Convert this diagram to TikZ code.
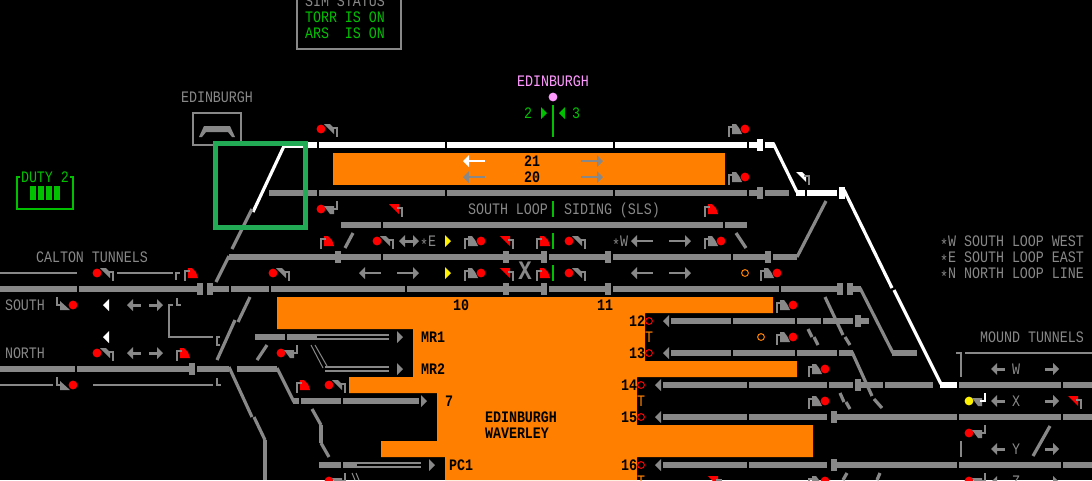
\documentclass[tikz,border=0pt]{standalone}
\usepackage{fontspec}
\setmainfont[FakeStretch=0.833]{Liberation Mono}
\definecolor{tg}{HTML}{888888}
\definecolor{po}{HTML}{FF8000}
\definecolor{gt}{HTML}{00C000}
\definecolor{gb}{HTML}{22AA55}
\definecolor{pk}{HTML}{FF99FF}
\newcounter{tn}
\tikzset{lab/.style={inner sep=0pt,outer sep=0pt,font=\fontsize{12}{14}\selectfont,text=tg,text height=7.9pt,text depth=0pt},
 w1/.style={line width=0.75pt},w2/.style={line width=1.5pt},w3/.style={line width=2.4pt}}
% track segment: [colour]{x1}{x2}{y}
\newcommand\TT[4][tg]{\fill[#1] (#2,#4-3) rectangle (#3,#4+3);}
% block joint
\newcommand\BK[3][tg]{\fill[#1] (#2,#3-6) rectangle (#2+6,#3+6);}
% thin line
\newcommand\TN[4][tg]{\fill[#1] (#2,#4-1) rectangle (#3,#4+1);}
% outlined (double) track
\newcommand\DB[3]{\fill[tg] (#1,#3-3) rectangle (#2,#3-1); \fill[tg] (#1,#3+1) rectangle (#2,#3+3);}
% diagonal
\newcommand\DG[5][tg]{\draw[#1,w3] (#2,#3) -- (#4,#5);}
\newcommand\PL[2][tg]{\draw[#1,w2] #2;}
% triangles: x=base left edge, y centre
\newcommand\TL[3][tg]{\fill[#1] (#2,#3) -- (#2+6,#3-6) -- (#2+6,#3+6) -- cycle;}
\newcommand\TR[3][tg]{\fill[#1] (#2+6,#3) -- (#2,#3-6) -- (#2,#3+6) -- cycle;}
% arrows
\newcommand\AL[4][tg]{\TL[#1]{#2}{#4}\fill[#1] (#2+6,#4-1) rectangle (#3,#4+1);}
\newcommand\AR[4][tg]{\TR[#1]{#3-6}{#4}\fill[#1] (#2,#4-1) rectangle (#3-6,#4+1);}
\newcommand\ALS[3]{\TL{#1}{#3}\fill[tg] (#1+6,#3-1.5) rectangle (#2,#3+1.5);}
\newcommand\ARS[3]{\TR{#2-6}{#3}\fill[tg] (#1,#3-1.5) rectangle (#2-6,#3+1.5);}
\newcommand\DLR[3]{\TL{#1}{#3}\TR{#2-6}{#3}\fill[tg] (#1+6,#3-1.5) rectangle (#2-6,#3+1.5);}
% heads
\newcommand\HA[3][tg]{\fill[#1] (#2+3,#3-5) -- (#2+9,#3-5) -- (#2+13,#3-1) -- (#2+13,#3+5) -- cycle;}
\newcommand\HC[3][tg]{\fill[#1] (#2-13,#3-5) -- (#2-9,#3-5) -- (#2-6,#3-1) -- (#2-3,#3+5) -- (#2-13,#3+5) -- cycle;}
\newcommand\PA[3][tg]{\draw[#1,w2] (#2+11,#3-1) -- (#2+16,#3-1) -- (#2+16,#3+8);}
\newcommand\PC[3][tg]{\draw[#1,w2] (#2-11,#3-2) -- (#2-16,#3-2) -- (#2-16,#3+8);}
\newcommand\DT[3][red]{\fill[#1] (#2,#3) circle (4.4);}
% dot-left, post down
\newcommand\SA[2]{\DT{#1}{#2}\HA{#1}{#2}\PA{#1}{#2}}
% dot-right, post down
\newcommand\SC[2]{\DT{#1}{#2}\HC{#1}{#2}\PC{#1}{#2}}
% dot-left, post up
\newcommand\SB[3][tg]{\fill[tg] (#2+3,#3-3) -- (#2+13,#3-3) -- (#2+13,#3+5) -- (#2+9,#3+5) -- cycle; \draw[#1,w2] (#2+11,#3) -- (#2+16,#3) -- (#2+16,#3-8);}
% dot-right, post up
\newcommand\SD[2]{\DT{#1}{#2}\fill[tg] (#1-13,#2-4) -- (#1-3,#2+5) -- (#1-13,#2+5) -- cycle; \draw[tg,w2] (#1-16,#2-8) -- (#1-16,#2) -- (#1-11,#2);}
% red heads without dot
\newcommand\RV[2]{\fill[red] (#1+3,#2-5) -- (#1+13,#2-5) -- (#1+13,#2+5) -- cycle;\PA{#1}{#2}}
\newcommand\RR[2]{\fill[red] (#1-13,#2-5) -- (#1-9,#2-5) -- (#1-5,#2-1) -- (#1-3,#2+5) -- (#1-13,#2+5) -- cycle;\PC{#1}{#2}}
\newcommand\RG[3][red]{\draw[#1,w1] (#2,#3) circle (3.4);}
\newcommand\TX[4][tg]{\stepcounter{tn}\node[lab,text=#1] (t\arabic{tn}) at (#2,#3) {#4};}
\newcommand\BX[3]{\stepcounter{tn}\node[lab,text=black,font=\fontsize{12}{14}\bfseries\selectfont] (t\arabic{tn}) at (#1,#2) {#3};}
\newcommand\st{\raisebox{-2.8pt}{*}}
\begin{document}
\begin{tikzpicture}[x=0.75pt,y=-0.75pt]
\useasboundingbox (0,0) rectangle (1092,480);
\clip (0,0) rectangle (1092,480);
\fill[black] (0,0) rectangle (1092,480);
% platforms
\fill[po] (333,153) rectangle (725,185);
\fill[po] (277,297) -- (773,297) -- (773,313) -- (645,313) -- (645,361) -- (797,361) -- (797,377) -- (637,377) -- (637,425) -- (813,425) -- (813,457) -- (637,457) -- (637,480) -- (445,480) -- (445,457) -- (381,457) -- (381,441) -- (437,441) -- (437,393) -- (349,393) -- (349,377) -- (413,377) -- (413,329) -- (277,329) -- cycle;
% sim status
\draw[tg,w2] (297,-5) -- (297,49) -- (401,49) -- (401,-5);
\TX{345}{1}{SIM STATUS}
\TX[gt]{345}{17}{TORR IS ON}
\TX[gt]{345}{33}{ARS~~IS~ON}
% Edinburgh icon
\TX{217}{97}{EDINBURGH}
\draw[tg,w2] (193,113) rectangle (241,145);
\fill[tg] (204,126) -- (230,126) -- (235,137) -- (232,137) -- (228,132) -- (206,132) -- (202,137) -- (199,137) -- cycle;
% duty
\draw[gt,w2] (17,183) -- (17,177) -- (20,177);
\draw[gt,w2] (70,177) -- (73,177) -- (73,209) -- (17,209) -- (17,183);
\TX[gt]{45}{177}{DUTY 2}
\foreach \q in {30,38,46,54} {\fill[gt] (\q,186) rectangle (\q+6,200);}
% Edinburgh (pink) and timing
\TX[pk]{553}{81}{EDINBURGH}
\DT[pk]{553}{97}
\fill[gt] (552,105) rectangle (554,137);
\TR[gt]{541}{113}
\TL[gt]{559}{113}
\TX[gt]{528}{113}{2}
\TX[gt]{576}{113}{3}
% top white track
\TT[white]{284}{306}{145}
\TT[white]{308}{317}{145}
\TT[white]{319}{445}{145}
\TT[white]{447}{613}{145}
\TT[white]{615}{747}{145}
\TT[white]{749}{757}{145}
\BK[white]{757}{145}
\TT[white]{765}{774}{145}
\DG[white]{773}{143}{797}{192}
\TT[white]{796}{805}{193}
\TT[white]{807}{837}{193}
\fill[white] (839,187) rectangle (845,199);
\DG[white]{844}{190}{892}{288}
\DG[white]{894}{290}{941}{384}
\TT[white]{940}{957}{385}
\DG[white]{284}{146}{253}{212}
\DG{252}{209}{232}{249}
\DG{229}{256}{216}{282}
% second track
\TT{269}{317}{193}
\TT{319}{445}{193}
\TT{447}{613}{193}
\TT{615}{747}{193}
\TT{749}{757}{193}
\BK{757}{193}
\TT{765}{789}{193}
% y=225
\TT{341}{381}{225}
\TT{383}{723}{225}
\TT{725}{747}{225}
% y=257
\TT{229}{335}{257}
\BK{335}{257}
\TT{341}{381}{257}
\TT{383}{503}{257}
\BK{503}{257}
\TT{509}{541}{257}
\BK{541}{257}
\TT{549}{605}{257}
\BK{605}{257}
\TT{613}{731}{257}
\TT{733}{765}{257}
\BK{765}{257}
\TT{773}{797}{257}
\DG{797}{257}{826}{201}
% y=289
\TT{0}{77}{289}
\TT{79}{197}{289}
\BK{197}{289}
\BK{207}{289}
\TT{213}{229}{289}
\TT{231}{269}{289}
\TT{271}{405}{289}
\TT{407}{503}{289}
\BK{503}{289}
\TT{509}{541}{289}
\BK{541}{289}
\TT{549}{605}{289}
\BK{605}{289}
\TT{613}{779}{289}
\TT{781}{837}{289}
\BK{837}{289}
\BK{847}{289}
\TT{853}{861}{289}
\DG{860}{288}{893}{353}
\TT{892}{917}{353}
% thin calton
\TN{0}{77}{273}
\TN{117}{173}{273}
\TN{0}{53}{385}
\TN{93}{213}{385}
\PL{(169,304) -- (169,337) -- (213,337)}
\PL{(169,305) -- (173,305)}
\PL{(177,298) -- (177,305) -- (181,305)}
\PL{(220,345) -- (217,345) -- (217,337) -- (220,337)}
\PL{(217,378) -- (217,385) -- (221,385)}
\PL{(176,280) -- (176,273) -- (180,273)}
% y=369 left
\TT{0}{75}{369}
\TT{77}{189}{369}
\BK{189}{369}
\TT{197}{229}{369}
\TT{237}{277}{369}
\DG{229}{367}{252}{417}
\DG{254}{417}{265}{440}
\fill[tg] (263,440) rectangle (267,480);
\DG{277}{368}{294}{402}
\DG{250}{297}{238}{322}
\DG{235}{320}{217}{360}
\DG{267}{345}{257}{360}
% MR1, MR2
\TT{255}{285}{337}
\TT{287}{317}{337}
\DB{317}{389}{337}
\TR{397}{337}
\DB{325}{389}{369}
\TR{397}{369}
\draw[tg,w1] (311,345) -- (323,368);
\draw[tg,w1] (315,345) -- (327,366);
% y=401
\TT{293}{299}{401}
\TT{301}{341}{401}
\TT{343}{419}{401}
\TR{421}{401}
\DG{312}{409}{321}{425}
\fill[tg] (319,425) rectangle (323,443);
\DG{321}{443}{329}{457}
% PC1
\TT{319}{341}{465}
\TT{343}{357}{465}
\DB{357}{421}{465}
\TR{429}{465}
\draw[tg,w1] (352,473) -- (355,480);
\draw[tg,w1] (356,473) -- (359,480);
% right tracks
\TL{663}{321}
\TT{671}{731}{321}
\TT{733}{795}{321}
\TT{797}{821}{321}
\TT{823}{853}{321}
\BK{855}{321}
\TT{861}{869}{321}
\TL{663}{353}
\TT{671}{731}{353}
\TT{733}{795}{353}
\TT{797}{837}{353}
\TT{839}{853}{353}
\DG{852}{352}{872}{396}
\DG{874}{399}{882}{408}
\TL{655}{385}
\TT{663}{747}{385}
\TT{749}{827}{385}
\TT{829}{853}{385}
\BK{855}{385}
\TT{861}{883}{385}
\TT{885}{933}{385}
\TT{959}{1061}{385}
\TT{1063}{1092}{385}
\TL{655}{417}
\TT{663}{747}{417}
\TT{749}{827}{417}
\BK{831}{417}
\TT{837}{957}{417}
\TT{959}{1061}{417}
\TT{1063}{1092}{417}
\TL{655}{465}
\TT{663}{747}{465}
\TT{749}{827}{465}
\BK{831}{465}
\TT{837}{957}{465}
\TT{959}{1061}{465}
\TT{1063}{1092}{465}
\DG{825}{297}{843}{335}
\DG{845}{337}{850}{345}
\DG{808}{329}{812}{337}
\DG{814}{337}{818}{345}
\DG{840}{393}{844}{402}
\DG{846}{402}{850}{409}
\DG{847}{473}{843}{480}
\DG{880}{473}{877}{480}
\DG{736}{233}{746}{248}
\DG{353}{233}{345}{248}
\DG{1050}{426}{1033}{456}
% mound tunnels lines
\TN{965}{1092}{353}
\PL{(956,353) -- (961,353) -- (961,377)}
\PL{(961,441) -- (961,457)}
% signals top
\SA{321}{129}
\SC{745}{129}
\SC{745}{177}
\DT{321}{209}\SB{321}{209}
\HA[white]{793}{177}\PA{793}{177}
\RV{386}{209}
\RR{721}{209}
% row 241
\RR{337}{241}
\SA{377}{241}
\SC{481}{241}
\RV{497}{241}
\RR{553}{241}
\SA{569}{241}
\SC{721}{241}
% row 273
\SA{97}{273}
\RR{201}{273}
\SA{273}{273}
\SC{481}{273}
\RV{497}{273}
\RR{553}{273}
\SA{569}{273}
\SC{777}{273}
\RG[po]{745}{273}
% left
\SD{73}{305}
\SD{73}{385}
\SA{97}{353}
\RR{193}{353}
\DT{281}{353}\SB{281}{353}
\RR{313}{385}
\SA{329}{385}
% right sig
\SC{793}{305}
\SC{793}{337}
\RG[po]{761}{337}
\SC{825}{369}
\SC{825}{401}
\SC{825}{481}
\RV{705}{481}
\DT[yellow]{969}{401}\SB[white]{969}{401}
\RV{1065}{401}
\DT{969}{433}\SB{969}{433}
\DT{969}{481}\SB{969}{481}
\DT{329}{481}\SB{329}{481}
% rings
\RG{649}{321}\RG{649}{353}\RG{641}{385}\RG{641}{417}\RG{641}{465}
% arrows on platforms
\AL[white]{463}{485}{161}
\AL{463}{485}{177}
\AR{581}{603}{161}
\AR{581}{603}{177}
% row arrows
\DLR{399}{419}{241}
\TR[yellow]{445}{241}
\TR[yellow]{445}{273}
\AL{631}{653}{241}
\AR{669}{691}{241}
\AL{359}{381}{273}
\AR{397}{419}{273}
\AL{631}{653}{273}
\AR{669}{691}{273}
\foreach \q in {305,353} {\ALS{127}{141}{\q}\ARS{149}{163}{\q}}
\TL[white]{103}{305}
\TL[white]{103}{337}
\ALS{991}{1005}{369}\ARS{1045}{1059}{369}
\ALS{991}{1005}{401}\ARS{1045}{1059}{401}
\ALS{991}{1005}{449}\ARS{1045}{1059}{449}
\ALS{991}{1005}{482}\ARS{1045}{1059}{482}
% green bars
\fill[gt] (552,201) rectangle (554,217);
\fill[gt] (552,233) rectangle (554,249);
\fill[gt] (552,265) rectangle (554,281);
% texts
\TX{92}{257}{CALTON TUNNELS}
\TX{25}{305}{SOUTH}
\TX{25}{353}{NORTH}
\TX{508}{209}{SOUTH LOOP}
\TX{612}{209}{SIDING (SLS)}
\TX{428}{241}{\st E}
\TX{620}{241}{\st W}
\stepcounter{tn}\node[lab,font=\fontsize{20}{22}\bfseries\selectfont,text height=10pt] (t\arabic{tn}) at (525,273) {X};
\TX{1012}{241}{\st W SOUTH LOOP WEST}
\TX{1012}{257}{\st E SOUTH LOOP EAST}
\TX{1012}{273}{\st N NORTH LOOP LINE}
\TX{1032}{337}{MOUND TUNNELS}
\TX{1016}{369}{W}
\TX{1016}{401}{X}
\TX{1016}{449}{Y}
\TX{1016}{481}{Z}
\BX{532}{161}{21}
\BX{532}{177}{20}
\BX{461}{305}{10}
\BX{605}{305}{11}
\BX{637}{321}{12}
\BX{637}{353}{13}
\BX{629}{385}{14}
\BX{629}{417}{15}
\BX{629}{465}{16}
\BX{433}{337}{MR1}
\BX{433}{369}{MR2}
\BX{449}{401}{7}
\BX{521}{417}{EDINBURGH}
\BX{517}{433}{WAVERLEY}
\BX{461}{465}{PC1}
\TX[po]{649}{337}{T}
\TX[po]{641}{401}{T}
\TX[po]{641}{481}{T}
% green highlight box
\draw[gb,line width=3.75pt] (215.5,143.5) rectangle (305.5,227.5);
\end{tikzpicture}
\end{document}
